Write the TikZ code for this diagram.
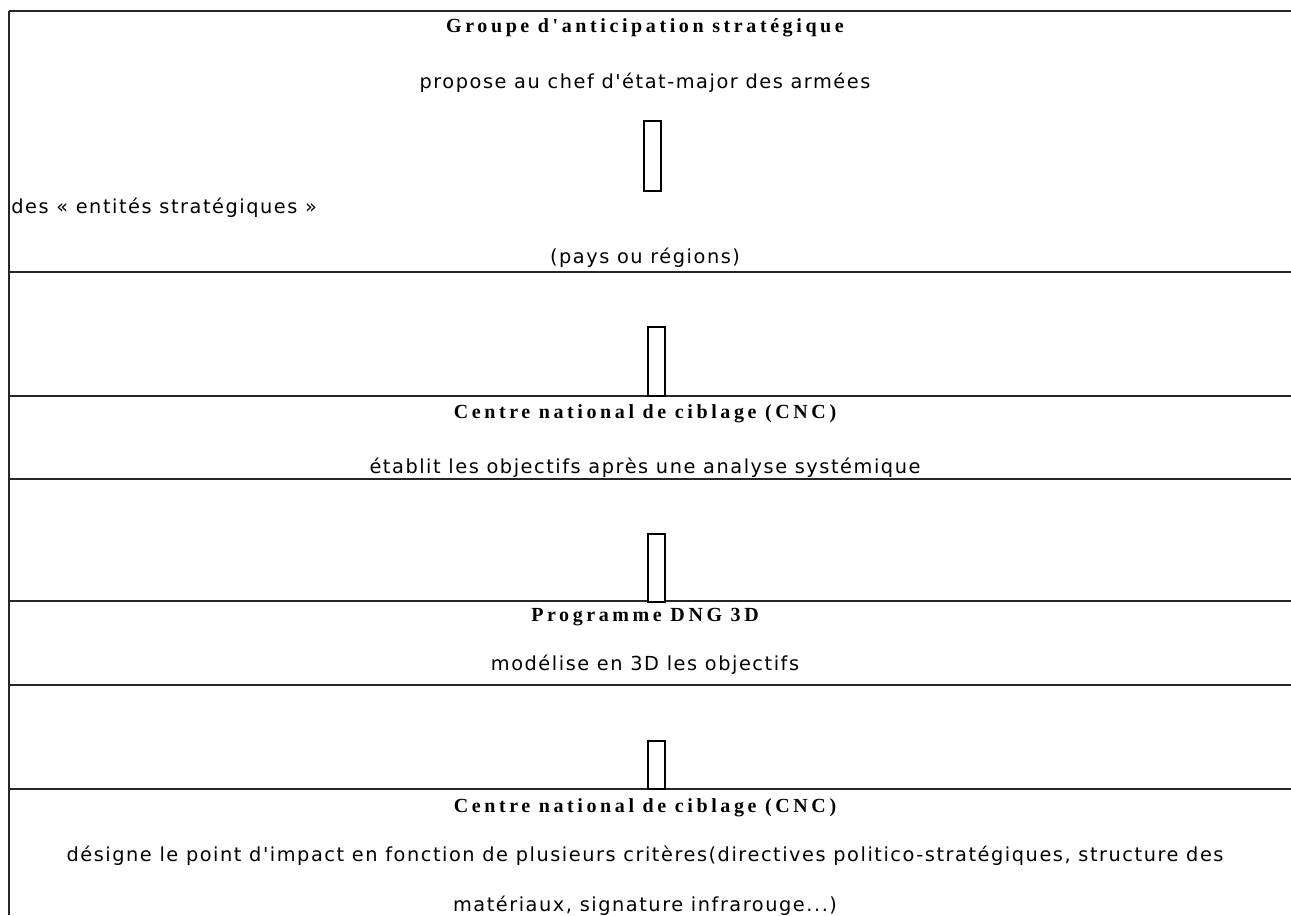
\documentclass[tikz,border=0pt]{standalone}
\usepackage{fontspec}
\setmainfont{DejaVu Sans}
\newfontfamily\bodyfont[LetterSpace=8]{DejaVu Sans}
\newfontfamily\headfont[LetterSpace=18]{Liberation Serif}
\begin{document}
\begin{tikzpicture}[x=0.75pt,y=-0.75pt,
  rule/.style={line width=1.6pt,black!85},
  head/.style={inner sep=0pt,font=\headfont\bfseries\fontsize{15pt}{17pt}\selectfont},
  body/.style={inner sep=0pt,font=\bodyfont\fontsize{14.5pt}{17pt}\selectfont},
  bar/.style={draw=black,line width=1.2pt,fill=white,inner sep=0pt,minimum width=17*0.75pt}]
\useasboundingbox (0,0) rectangle (1291,915);
% frame lines
\coordinate (tl) at (9,11);
\coordinate (tr) at (1291,11);
\coordinate (bl) at (9,915);
\draw[rule,line width=2pt] (tl) -- (tr);
\draw[rule] (tl) -- (bl);
\foreach \yy/\nm in {272/a,396/b,479/c,601/d,685/e,789/f}{
  \coordinate (l\nm) at (9,\yy);
  \coordinate (r\nm) at (1291,\yy);
  \draw[rule] (l\nm) -- (r\nm);
}
% texts
\node[head] (h1) at (645,28) {Groupe d'anticipation stratégique};
\node[body] (t1) at (645,83) {propose au chef d'état-major des armées};
\node[body,anchor=west] (t2) at (11,208) {des « entités stratégiques »};
\node[body] (t3) at (645,258) {(pays ou régions)};
\node[head] (h2) at (645,414) {Centre national de ciblage (CNC)};
\node[body] (t4) at (645,468) {établit les objectifs après une analyse systémique};
\node[head] (h3) at (645,617) {Programme DNG 3D};
\node[body] (t5) at (645,665) {modélise en 3D les objectifs};
\node[head] (h4) at (645,808) {Centre national de ciblage (CNC)};
\node[body] (t6) at (645,856) {désigne le point d'impact en fonction de plusieurs critères(directives politico-stratégiques, structure des};
\node[body] (t7) at (645,906) {matériaux, signature infrarouge...)};
% bars
\node[bar,minimum height=70*0.75pt] (b1) at (652.5,156) {};
\node[bar,minimum height=69*0.75pt] (b2) at (656.5,361.5) {};
\node[bar,minimum height=68*0.75pt] (b3) at (656.5,568) {};
\node[bar,minimum height=48*0.75pt] (b4) at (656.5,765) {};
\end{tikzpicture}
\end{document}
